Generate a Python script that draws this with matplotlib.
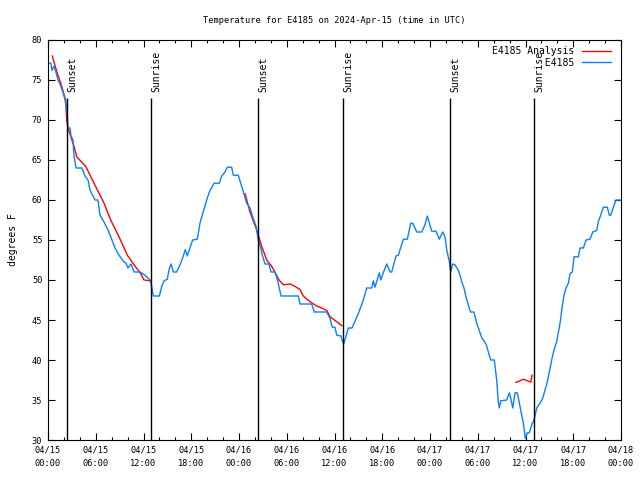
import matplotlib
matplotlib.use("Agg")
import numpy as np
import matplotlib.pyplot as plt

# hours since 2024-04-15 00:00 UTC
obs_hours = [0.0, 0.38, 0.5, 0.75, 1.0, 1.26, 1.51, 1.88, 2.14, 2.39, 2.51, 2.76, 2.89, 3.14,
             3.27, 3.52, 4.27, 4.65, 5.03, 5.28, 5.91, 6.28, 6.53, 7.04, 7.54, 8.04, 8.42,
             8.92, 9.55, 9.80, 10.05, 10.43, 10.81, 11.56, 12.19, 12.82, 13.03, 13.23, 13.99,
             14.29, 14.58, 14.99, 15.20, 15.46, 15.75, 16.17, 16.59, 17.0, 17.25, 17.5, 17.76,
             18.18, 18.76, 19.10, 19.44, 19.94, 20.27, 20.86, 21.53, 21.83, 22.24, 22.53,
             23.08, 23.28, 23.91, 24.34, 24.97, 25.38, 25.72, 26.14, 26.43, 26.73, 26.93,
             27.27, 27.77, 28.02, 28.53, 28.86, 29.28, 31.45, 31.67, 33.14, 33.46, 35.02,
             35.44, 35.72, 36.06, 36.28, 36.82, 36.98, 37.16, 37.74, 38.2, 38.99, 39.62,
             40.05, 40.68, 40.88, 41.09, 41.63, 41.81, 42.13, 42.56, 42.98, 43.19, 43.73,
             44.02, 44.65, 45.15, 45.58, 45.83, 46.33, 46.96, 47.37, 47.66, 48.22, 48.76,
             49.17, 49.60, 49.89, 50.10, 50.43, 50.60, 50.85, 51.14, 51.56, 51.77, 51.98,
             52.27, 52.52, 52.80, 53.10, 53.51, 53.87, 54.5, 55.04, 55.45, 55.63, 56.08,
             56.38, 56.58, 56.71, 56.89, 57.64, 57.97, 58.15, 58.40, 58.68, 58.97, 59.31,
             59.73, 59.98, 60.23, 60.48, 60.78, 61.07, 61.41, 61.82, 62.16, 62.45, 62.66,
             62.87, 63.29, 63.58, 63.92, 64.34, 64.59, 64.84, 65.09, 65.38, 65.60, 65.88,
             66.10, 66.64, 66.85, 67.27, 67.61, 68.11, 68.45, 68.95, 69.15, 69.45, 69.78,
             70.28, 70.53, 70.71, 71.04, 71.38, 71.97]
obs_temp = [77.1, 77.1, 76.2, 76.7, 76.0, 75.0, 74.5, 73.5, 72.5, 71.0, 69.0, 69.0, 68.0, 67.5,
            65.5, 64.0, 64.0, 63.0, 62.5, 61.25, 60.0, 60.0, 58.1, 57.25, 56.25, 55.0, 54.0,
            53.1, 52.25, 52.1, 51.5, 52.0, 51.0, 51.0, 50.6, 50.0, 49.2, 48.0, 48.0,
            49.2, 49.9, 50.1, 51.25, 52.0, 51.0, 51.0, 51.9, 53.0, 53.8, 53.0, 53.8,
            55.0, 55.1, 57.1, 58.3, 60.0, 61.0, 62.1, 62.1, 63.0, 63.5, 64.1,
            64.1, 63.1, 63.1, 61.7, 59.6, 59.0, 57.9, 56.7, 55.0, 54.0, 53.1,
            52.0, 52.0, 51.0, 51.0, 49.9, 48.0, 48.0, 47.0, 47.0, 46.0, 46.0,
            45.2, 44.1, 44.1, 43.1, 43.0, 42.4, 42.0, 44.0, 44.0, 45.8, 47.5,
            49.0, 49.0, 49.9, 49.1, 50.9, 50.0, 50.9, 52.0, 51.0, 51.0, 53.0,
            53.1, 55.1, 55.1, 57.1, 57.1, 56.0, 56.0, 56.9, 58.0, 56.1, 56.1,
            55.1, 56.0, 55.4, 53.75, 52.3, 51.0, 52.0, 51.9, 51.2, 50.6, 49.8,
            49.0, 47.9, 46.9, 46.0, 46.0, 44.6, 42.8, 42.0, 40.6, 40.0, 40.0,
            37.5, 34.8, 34.0, 34.9, 35.0, 35.9, 35.2, 34.0, 35.9, 35.9, 34.2,
            32.1, 30.2, 30.9, 30.9, 31.9, 32.5, 34.0, 34.6, 35.2, 36.25, 36.9,
            37.9, 40.0, 41.25, 42.3, 44.6, 46.5, 48.1, 49.0, 49.6, 50.8, 51.0,
            52.9, 52.9, 54.0, 54.0, 55.0, 55.1, 56.0, 56.2, 57.3, 58.1, 59.1,
            59.1, 58.1, 58.1, 59.1, 60.0, 60.0]

# analysis runs (three separate pieces)
ana_hours = [
    [0.54, 1.17, 1.60, 2.22, 2.35, 2.51, 3.27, 3.61, 4.74, 5.78, 7.04, 7.88, 8.92, 9.97,
     10.81, 11.65, 12.06, 12.82],
    [24.76, 25.38, 26.23, 26.85, 27.48, 28.11, 28.61, 29.03, 29.57, 30.41, 31.04, 31.67,
     32.08, 32.51, 33.21, 33.76, 34.39, 35.02, 35.44, 35.98, 36.40, 36.91],
    [58.81, 59.31, 59.73, 60.23, 60.67, 60.82],
]
ana_temp = [
    [78.0, 75.8, 74.6, 72.5, 70.0, 69.0, 66.7, 65.4, 64.2, 62.1, 59.6, 57.5, 55.4, 53.1,
     51.9, 50.8, 50.0, 49.9],
    [60.8, 58.5, 56.25, 54.2, 52.5, 51.7, 50.8, 50.0, 49.4, 49.5, 49.2, 48.8,
     48.0, 47.6, 47.1, 46.75, 46.5, 46.2, 45.4, 45.0, 44.7, 44.3],
    [37.2, 37.4, 37.6, 37.4, 37.25, 38.1],
]

sun_hours = [2.43, 13.0, 26.43, 37.1, 50.55, 61.1]
sun_names = ["Sunset", "Sunrise", "Sunset", "Sunrise", "Sunset", "Sunrise"]

tick_hours = list(range(0, 73, 6))
tick_labels = ["04/15\n00:00", "04/15\n06:00", "04/15\n12:00", "04/15\n18:00",
               "04/16\n00:00", "04/16\n06:00", "04/16\n12:00", "04/16\n18:00",
               "04/17\n00:00", "04/17\n06:00", "04/17\n12:00", "04/17\n18:00",
               "04/18\n00:00"]

series_names = ["E4185 Analysis", "E4185"]

plt.rcParams["font.family"] = ["DejaVu Sans Mono"]

fig = plt.figure(figsize=(6.4, 4.8), dpi=100)
ax = fig.add_axes([48 / 640, 40 / 480, 573 / 640, 400 / 480])

red = "#ff0000"
blue = "#0a80ff"

# monospace font: pad names on the left so they line up on the right like gnuplot
width = max(len(n) for n in series_names)
padded = [n.rjust(width) for n in series_names]

for i, (h, t) in enumerate(zip(ana_hours, ana_temp)):
    ax.plot(h, t, color=red, lw=1.0, label=padded[0] if i == 0 else None)
ax.plot(obs_hours, obs_temp, color=blue, lw=1.0, label=padded[1])

# sunrise / sunset markers
for h, name in zip(sun_hours, sun_names):
    ax.vlines(h, 30, 72.7, color="black", lw=1.0)
    ax.text(h, 73.5, name, rotation=90, ha="left", va="bottom", fontsize=7)

ax.set_xlim(0, 72)
ax.set_ylim(30, 80)
ax.set_xticks(tick_hours)
ax.set_xticklabels(tick_labels, fontsize=6.2, linespacing=1.6)
ax.set_xticks(np.arange(0, 73, 2), minor=True)
ax.set_yticks(range(30, 81, 5))
ax.tick_params(axis="y", labelsize=6.2)
ax.tick_params(which="both", direction="in", top=True, right=True, width=0.8)
ax.tick_params(which="major", length=5, pad=4)
ax.tick_params(which="minor", length=2.5)
for s in ax.spines.values():
    s.set_linewidth(0.8)

ax.set_ylabel("degrees F", fontsize=7, labelpad=10)
ax.set_title("Temperature for E4185 on 2024-Apr-15 (time in UTC)", fontsize=6.2, pad=12)

ax.legend(loc="upper right", bbox_to_anchor=(0.993, 1.0), frameon=False,
          markerfirst=False, fontsize=7, handlelength=3.0, handletextpad=0.7,
          borderaxespad=0.25, labelspacing=0.15)

fig.savefig("out.png", dpi=100)
